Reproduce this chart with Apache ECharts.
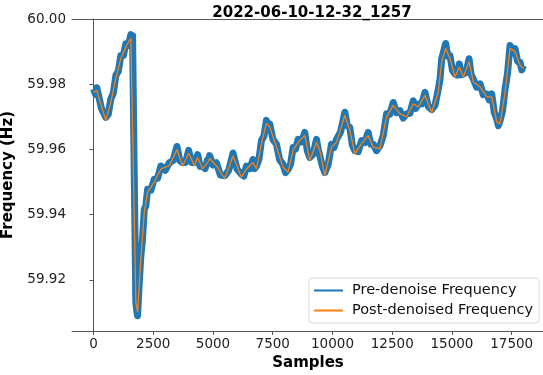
<!DOCTYPE html>
<html>
<head>
<meta charset="utf-8">
<script src="https://cdn.jsdelivr.net/npm/echarts@6/dist/echarts.min.js"></script>
<style>
  html, body { margin: 0; padding: 0; background: #fff; }
  #main { width: 543px; height: 375px; }
</style>
</head>
<body>
<div id="main"></div>
<script>
// 去噪后曲线
var postSamples = [0, 138, 515, 725, 934, 1144, 1353, 1563, 1634, 1772, 1844, 1982, 2124, 2263, 2543, 2820, 3172, 3490, 3729, 3981,
  4219, 4358, 4567, 4777, 4860, 5141, 5489, 5837, 6188, 6398, 6675, 6817, 7027, 7236, 7374, 7655, 7932, 8141, 8351, 8560,
  8841, 9050, 9331, 9469, 9679, 9960, 10169, 10517, 10726, 10936, 11216, 11493, 11703, 11983, 12264, 12541, 12821, 13102, 13379, 13588,
  13869, 14150, 14426, 14569, 14736, 14916, 15126, 15306, 15474, 15713, 15893, 16173, 16454, 16663, 16873, 17011, 17221, 17430, 17640, 17849, 17987];
var postValues = [59.9776, 59.9780, 59.9689, 59.9746, 59.9818, 59.9879, 59.9915, 59.9941, 59.9940, 59.9130, 59.9100, 59.9265, 59.9407, 59.9469, 59.9500, 59.9540, 59.9550, 59.9600, 59.9550, 59.9588,
  59.9550, 59.9575, 59.9540, 59.9560, 59.9572, 59.9550, 59.9510, 59.9580, 59.9515, 59.9540, 59.9560, 59.9540, 59.9618, 59.9680, 59.9669, 59.9607, 59.9545, 59.9530, 59.9597, 59.9622,
  59.9643, 59.9566, 59.9622, 59.9597, 59.9520, 59.9607, 59.9622, 59.9705, 59.9658, 59.9587, 59.9618, 59.9643, 59.9607, 59.9602, 59.9700, 59.9735, 59.9710, 59.9700, 59.9740, 59.9730,
  59.9766, 59.9713, 59.9776, 59.9869, 59.9910, 59.9879, 59.9822, 59.9853, 59.9822, 59.9869, 59.9807, 59.9792, 59.9761, 59.9761, 59.9684, 59.9679, 59.9776, 59.9910, 59.9900, 59.9858, 59.9848];

// 去噪前：噪声带（上沿/下沿交替，按图估读）
var preSamples = [0, 84, 138, 330, 515, 620, 725, 830, 934, 1040, 1144, 1250, 1353, 1460, 1563, 1600, 1634, 1700, 1772, 1810, 1844, 1910,
  1982, 2050, 2124, 2190, 2263, 2400, 2543, 2680, 2820, 3000, 3172, 3330, 3490, 3610, 3729, 3855, 3981, 4100, 4219, 4290, 4358, 4460,
  4567, 4670, 4777, 4820, 4860, 5000, 5141, 5310, 5489, 5660, 5837, 6010, 6188, 6290, 6398, 6540, 6675, 6745, 6817, 6920, 7027, 7130,
  7236, 7300, 7374, 7510, 7655, 7790, 7932, 8035, 8141, 8245, 8351, 8455, 8560, 8700, 8841, 8945, 9050, 9190, 9331, 9400, 9469, 9575,
  9679, 9820, 9960, 10065, 10169, 10340, 10517, 10620, 10726, 10830, 10936, 11075, 11216, 11355, 11493, 11600, 11703, 11840, 11983, 12120,
  12264, 12400, 12541, 12680, 12821, 12960, 13102, 13240, 13379, 13480, 13588, 13730, 13869, 14010, 14150, 14290, 14426, 14500, 14569, 14650,
  14736, 14825, 14916, 15020, 15126, 15215, 15306, 15390, 15474, 15590, 15713, 15800, 15893, 16030, 16173, 16310, 16454, 16560, 16663, 16770,
  16873, 16940, 17011, 17115, 17221, 17325, 17430, 17535, 17640, 17745, 17849, 17920, 17987];
var preValues = [59.9785, 59.9769, 59.9789, 59.9726, 59.9698, 59.9708, 59.9755, 59.9773, 59.9827, 59.9840, 59.9888, 59.9888, 59.9924, 59.9919, 59.9952, 59.9932, 59.9949, 59.9553, 59.9130, 59.9105, 59.9090, 59.9186,
  59.9274, 59.9324, 59.9416, 59.9427, 59.9478, 59.9475, 59.9509, 59.9511, 59.9549, 59.9536, 59.9559, 59.9566, 59.9609, 59.9566, 59.9559, 59.9560, 59.9597, 59.9560, 59.9559, 59.9554, 59.9584, 59.9548,
  59.9549, 59.9541, 59.9569, 59.9557, 59.9581, 59.9552, 59.9559, 59.9521, 59.9519, 59.9536, 59.9589, 59.9539, 59.9524, 59.9518, 59.9549, 59.9541, 59.9569, 59.9541, 59.9549, 59.9569, 59.9627, 59.9640,
  59.9689, 59.9666, 59.9678, 59.9630, 59.9616, 59.9568, 59.9554, 59.9529, 59.9539, 59.9554, 59.9606, 59.9601, 59.9631, 59.9623, 59.9652, 59.9596, 59.9575, 59.9585, 59.9631, 59.9601, 59.9606, 59.9549,
  59.9529, 59.9554, 59.9616, 59.9606, 59.9631, 59.9654, 59.9714, 59.9673, 59.9667, 59.9613, 59.9596, 59.9593, 59.9627, 59.9621, 59.9652, 59.9616, 59.9616, 59.9596, 59.9611, 59.9641,
  59.9709, 59.9708, 59.9744, 59.9713, 59.9719, 59.9696, 59.9709, 59.9711, 59.9749, 59.9726, 59.9739, 59.9739, 59.9775, 59.9731, 59.9722, 59.9735, 59.9785, 59.9815, 59.9878, 59.9880,
  59.9925, 59.9886, 59.9888, 59.9842, 59.9831, 59.9828, 59.9862, 59.9829, 59.9831, 59.9836, 59.9878, 59.9830, 59.9816, 59.9791, 59.9801, 59.9768, 59.9770, 59.9752, 59.9770, 59.9713,
  59.9693, 59.9673, 59.9688, 59.9718, 59.9785, 59.9834, 59.9919, 59.9896, 59.9909, 59.9870, 59.9867, 59.9844, 59.9857];

var xTicks = [0, 2500, 5000, 7500, 10000, 12500, 15000, 17500];
var yTicks = [59.92, 59.94, 59.96, 59.98, 60.00];

var preData = preSamples.map(function (s, i) { return [s, preValues[i]]; });
var postData = postSamples.map(function (s, i) { return [s, postValues[i]]; });

var font = 'DejaVu Sans';
var chart = echarts.init(document.getElementById('main'), null, { renderer: 'canvas' });

var option = {
    animation: false,
    backgroundColor: '#fff',
    title: {
        text: '2022-06-10-12-32_1257',
        left: 307,
        textAlign: 'center',
        top: 1,
        textStyle: { fontFamily: font, fontWeight: 'bold', fontSize: 15, color: '#000' }
    },
    legend: {
        orient: 'vertical',
        right: 4,
        top: 278,
        icon: 'rect',
        itemWidth: 29,
        itemHeight: 2,
        itemGap: 5,
        padding: [5, 6, 5, 5],
        backgroundColor: 'rgba(255,255,255,0.85)',
        borderColor: '#d8d8d8',
        borderWidth: 1,
        borderRadius: 3,
        textStyle: { fontFamily: font, fontSize: 14.5, color: '#111', padding: [0, 0, 0, 4] },
        data: [
            { name: 'Pre-denoise Frequency', itemStyle: { color: '#1f77b4' }, lineStyle: { width: 1.5 } },
            { name: 'Post-denoised Frequency', itemStyle: { color: '#ff7f0e' }, lineStyle: { width: 1.5 } }
        ]
    },
    grid: { left: 72, right: -1, top: 19, bottom: 44, containLabel: false, outerBoundsMode: 'none' },
    xAxis: [{
        type: 'value',
        min: -900,
        max: 18850,
        name: 'Samples',
        nameLocation: 'middle',
        nameGap: 21,
        nameTextStyle: { fontFamily: font, fontWeight: 'bold', fontSize: 15, color: '#000', verticalAlign: 'top' },
        axisLine: { show: true, lineStyle: { color: '#555', width: 1 } },
        axisTick: { show: true, length: 4, customValues: xTicks, lineStyle: { color: '#555' } },
        axisLabel: {
            customValues: xTicks, margin: 6, fontFamily: font, fontSize: 13.5, color: '#222',
            formatter: function (v) { return String(v); }
        },
        splitLine: { show: false }
    }, {
        type: 'value',
        position: 'top',
        min: -900,
        max: 18850,
        axisLine: { show: true, lineStyle: { color: '#555', width: 1 } },
        axisTick: { show: false },
        axisLabel: { show: false },
        splitLine: { show: false }
    }],
    yAxis: {
        type: 'value',
        min: 59.9043,
        max: 60.0,
        name: 'Frequency (Hz)',
        nameLocation: 'middle',
        nameGap: 56,
        nameTextStyle: { fontFamily: font, fontWeight: 'bold', fontSize: 15, color: '#000' },
        axisLine: { show: true, lineStyle: { color: '#555', width: 1 } },
        axisTick: { show: true, length: 4, customValues: yTicks, lineStyle: { color: '#555' } },
        axisLabel: {
            customValues: yTicks,
            margin: 6,
            fontFamily: font,
            fontSize: 13.5,
            color: '#222',
            formatter: function (v) { return v.toFixed(2); }
        },
        splitLine: { show: false }
    },
    series: [{
        name: 'Pre-denoise Frequency',
        type: 'line',
        data: preData,
        showSymbol: false,
        color: '#1f77b4',
        lineStyle: { width: 7, color: '#1f77b4', join: 'round' },
        z: 2
    }, {
        name: 'Post-denoised Frequency',
        type: 'line',
        data: postData,
        showSymbol: false,
        color: '#ff7f0e',
        lineStyle: { width: 1.3, color: '#ff7f0e' },
        z: 3
    }]
};
chart.setOption(option);
</script>
</body>
</html>
